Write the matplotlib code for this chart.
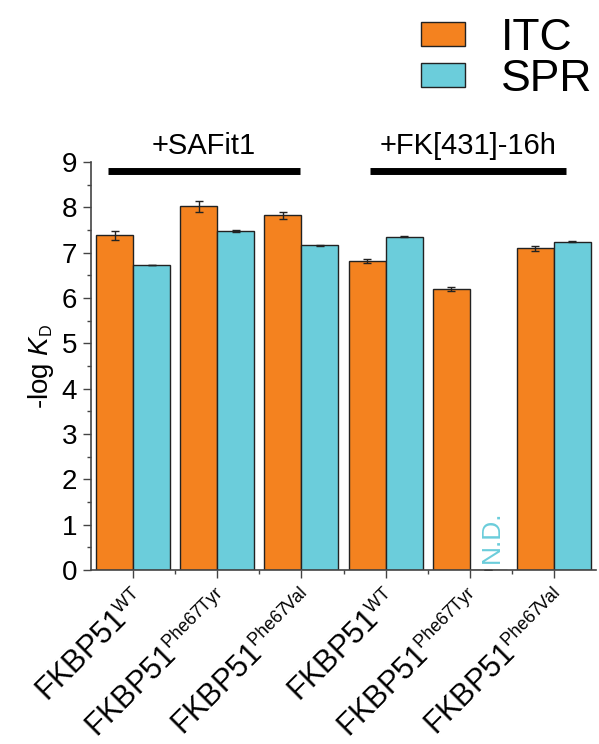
import numpy as np
import matplotlib
matplotlib.use("Agg")
from matplotlib import pyplot as plt
from matplotlib.patches import Patch
import matplotlib._mathtext as mt

plt.rcParams['font.family'] = ['Liberation Sans', 'DejaVu Sans']
plt.rcParams['mathtext.fontset'] = 'custom'
plt.rcParams['mathtext.rm'] = 'Liberation Sans'
plt.rcParams['mathtext.it'] = 'Liberation Sans:italic'
mt.SHRINK_FACTOR = 0.58  # smaller superscripts, as in the reference

labels = ["FKBP51$^{\\mathrm{WT}}$", "FKBP51$^{\\mathrm{Phe67Tyr}}$", "FKBP51$^{\\mathrm{Phe67Val}}$",
          "FKBP51$^{\\mathrm{WT}}$", "FKBP51$^{\\mathrm{Phe67Tyr}}$", "FKBP51$^{\\mathrm{Phe67Val}}$"]
itc = [7.39, 8.03, 7.83, 6.82, 6.20, 7.10]
itc_err = [0.10, 0.12, 0.08, 0.05, 0.05, 0.06]
spr = [6.73, 7.48, 7.17, 7.35, np.nan, 7.24]
spr_err = [0.01, 0.03, 0.01, 0.01, 0.0, 0.01]
groups = ["+SAFit1", "+FK[431]-16h"]

orange = "#F4821F"
cyan = "#6BCDDB"

fig = plt.figure(figsize=(5.99, 7.44), dpi=100)
ax = fig.add_axes([0.152, 0.234, 0.843, 0.548])

x = np.arange(len(labels))
w = 0.44
ax.bar(x - w / 2, itc, w, color=orange, edgecolor="#222222", linewidth=1.0,
       yerr=itc_err, error_kw=dict(ecolor="#222222", elinewidth=1, capsize=3, capthick=1))
spr_vals = np.nan_to_num(spr)
ax.bar(x + w / 2, spr_vals, w, color=cyan, edgecolor="#222222", linewidth=1.0,
       yerr=spr_err, error_kw=dict(ecolor="#222222", elinewidth=1, capsize=3, capthick=1))

# N.D. for missing SPR value
for i, v in enumerate(spr):
    if np.isnan(v):
        ax.text(x[i] + w / 2 + 0.04, 0.15, "N.D.", rotation=90, color=cyan, fontsize=19,
                ha="center", va="bottom")

ax.set_xlim(-0.5, 5.5)
ax.set_ylim(0, 9)
ax.set_yticks(range(10))
ax.set_yticks(np.arange(0.5, 9, 1), minor=True)
ax.set_xticks(x)
ax.set_xticks(np.arange(0.5, 5, 1), minor=True)
ax.set_xticklabels(labels, rotation=45, ha="right", rotation_mode="anchor", fontsize=22)
ax.tick_params(axis="y", labelsize=20, length=6, width=1, color="#444444", pad=4)
ax.tick_params(axis="y", which="minor", length=3, width=1, color="#444444")
ax.tick_params(axis="x", length=6, width=1, color="#444444", pad=6)
ax.tick_params(axis="x", which="minor", length=3, width=1, color="#444444")
for s in ["top", "right"]:
    ax.spines[s].set_visible(False)
for s in ["left", "bottom"]:
    ax.spines[s].set_color("#444444")
    ax.spines[s].set_linewidth(1.2)
ax.set_ylabel("-log $K_{\\mathrm{D}}$", fontsize=20, labelpad=4)

# group brackets
spans = [(-0.30, 1.98), (2.81, 5.14)]
for (a, b), g in zip(spans, groups):
    ax.plot([a, b], [8.8, 8.8], color="black", linewidth=5, clip_on=False, solid_capstyle="butt")
    ax.text((a + b) / 2, 9.05, g, fontsize=21, ha="center", va="bottom")

handles = [Patch(facecolor=orange, edgecolor="#222222", label="ITC"),
           Patch(facecolor=cyan, edgecolor="#222222", label="SPR")]
fig.legend(handles=handles, loc="upper right", bbox_to_anchor=(1.055, 1.03), frameon=False,
           fontsize=32, handlelength=1.0, handleheight=0.45, labelspacing=0.0, handletextpad=0.8)

fig.savefig("out.png", dpi=100)
